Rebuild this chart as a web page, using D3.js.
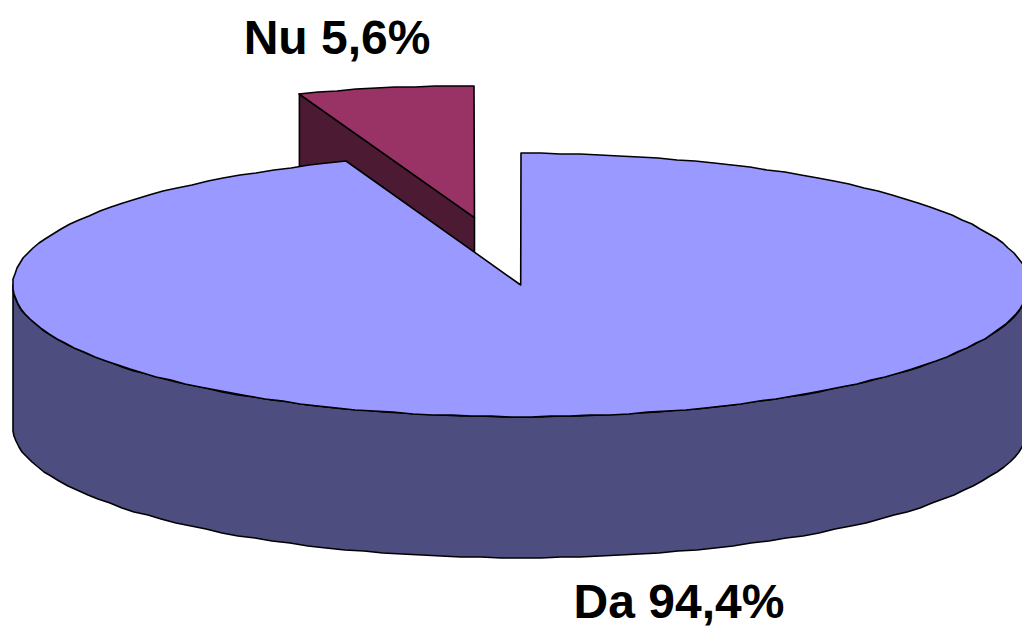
<!DOCTYPE html>
<html>
<head>
<meta charset="utf-8">
<script src="https://cdn.jsdelivr.net/npm/d3@7"></script>
<style>
html, body { margin: 0; padding: 0; background: #fff; }
svg text { font-family: "Liberation Sans", Arial, sans-serif; font-weight: bold; font-size: 48px; fill: #000; }
</style>
</head>
<body>
<div class="chart"></div>
<script>
// data
const categories = ["Da", "Nu"]
const values = [94.4, 5.6]
const labels = ["Da 94,4%", "Nu 5,6%"]
const topColors = ["#9999ff", "#993366"]
const sideColors = ["#4d4d7f", "#4d1a33"]

let width = 1022, height = 627
let cx = 520.7, cy = 285, rx = 508, ry = 131.7, depth = 141
let explode = [0, 0.52]
// label anchors (text-anchor middle, baseline)
let labelPos = [[679, 618], [337, 54]]

let svg = d3.select(".chart")
  .append("svg")
  .attr("width", width)
  .attr("height", height)

// normalized pie coords -> screen
let x = d3.scaleLinear().domain([-1, 1]).range([cx - rx, cx + rx])
let y = d3.scaleLinear().domain([-1, 1]).range([cy - ry, cy + ry])

let pie = d3.pie().sort(null).value(d => d.value)

let slices = pie(categories.map((c, i) => ({
  name: c, value: values[i], label: labels[i],
  top: topColors[i], side: sideColors[i], ex: explode[i], lp: labelPos[i]
})))

slices.forEach(s => {
  s.mid = (s.startAngle + s.endAngle) / 2
  s.off = [s.data.ex * Math.sin(s.mid), -s.data.ex * Math.cos(s.mid)]
})

function pt(a, r, off, z) {
  return [x(off[0] + r * Math.sin(a)), y(off[1] - r * Math.cos(a)) + z]
}

function arcPts(a0, a1, off, z) {
  let n = Math.max(2, Math.ceil(Math.abs(a1 - a0) / (2 * Math.PI) * 160))
  let pts = []
  for (let i = 0; i <= n; i++) {
    let p = pt(a0 + (a1 - a0) * i / n, 1, off, z)
    pts.push([Math.round(p[0]), Math.round(p[1])])
  }
  return pts
}

let line = d3.line().curve(d3.curveLinearClosed)

// back to front
let order = slices.slice().sort((a, b) => (-Math.cos(a.mid)) - (-Math.cos(b.mid)))

order.forEach(s => {
  let g = svg.append("g").attr("class", s.data.name)
  let a0 = s.startAngle, a1 = s.endAngle, off = s.off

  // radial wall at start edge (faces viewer when sin < 0)
  if (Math.sin(a0) < -1e-6) {
    g.append("path")
      .attr("d", line([pt(a0, 0, off, 0), pt(a0, 1, off, 0), pt(a0, 1, off, depth), pt(a0, 0, off, depth)]))
      .attr("fill", s.data.side)
  }
  // radial wall at end edge
  if (Math.sin(a1) > 1e-6) {
    g.append("path")
      .attr("d", line([pt(a1, 0, off, 0), pt(a1, 1, off, 0), pt(a1, 1, off, depth), pt(a1, 0, off, depth)]))
      .attr("fill", s.data.side)
  }

  // outer wall, front half only
  let b0 = Math.max(a0, Math.PI / 2), b1 = Math.min(a1, 3 * Math.PI / 2)
  if (b1 > b0) {
    let topArc = arcPts(b0, b1, off, 0)
    let botArc = arcPts(b1, b0, off, depth)
    g.append("path")
      .attr("d", line(topArc.concat(botArc)))
      .attr("fill", s.data.side)
  }

  // top face
  g.append("path")
    .attr("d", line([pt(0, 0, off, 0)].concat(arcPts(a0, a1, off, 0))))
    .attr("fill", s.data.top)

  g.selectAll("path")
    .attr("stroke", "#000")
    .attr("stroke-width", 1.6)
    .attr("stroke-linejoin", "round")
})

svg.selectAll("text.lbl")
  .data(slices)
  .enter()
  .append("text")
  .attr("class", "lbl")
  .attr("x", d => d.data.lp[0])
  .attr("y", d => d.data.lp[1])
  .attr("text-anchor", "middle")
  .text(d => d.data.label)
</script>
</body>
</html>
